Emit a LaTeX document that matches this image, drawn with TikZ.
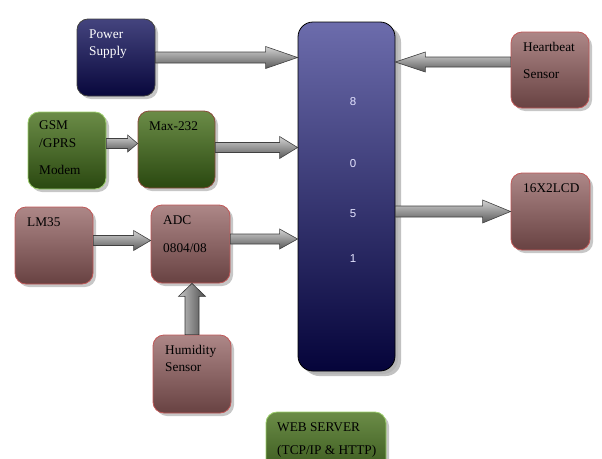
\documentclass[tikz,border=0pt]{standalone}
\usepackage{fontspec}
\setmainfont{Liberation Serif}
\newfontfamily\digfont{Liberation Sans}
\usetikzlibrary{calc,shadows}
\definecolor{bluetop}{HTML}{44447E}
\definecolor{bluebot}{HTML}{08073C}
\definecolor{cputop}{HTML}{6C6CAC}
\definecolor{cpubot}{HTML}{05043A}
\definecolor{redtop}{HTML}{AD8787}
\definecolor{redbot}{HTML}{684242}
\definecolor{redline}{HTML}{C05858}
\definecolor{greentop}{HTML}{6B8C47}
\definecolor{greenbot}{HTML}{2A4810}
\definecolor{greenline}{HTML}{9CCF6C}
\definecolor{maxline}{HTML}{8A4A3A}
\definecolor{digcol}{HTML}{E4E4FF}
\tikzset{
  box/.style={rounded corners=11pt, line width=0.8pt, inner sep=0pt,
    drop shadow={shadow xshift=3pt, shadow yshift=-3pt, fill=black!40, opacity=0.55}},
  sz/.style 2 args={minimum width=#1pt, minimum height=#2pt},
  bluebox/.style={box, draw=black!75, top color=bluetop, bottom color=bluebot},
  cpubox/.style={box, rounded corners=15pt, draw=black, top color=cputop, bottom color=cpubot,
    drop shadow={shadow xshift=6pt, shadow yshift=-5pt, fill=black!30, opacity=0.8}},
  redbox/.style={box, draw=redline, top color=redtop, bottom color=redbot},
  greenbox/.style={box, draw=greenline, top color=greentop, bottom color=greenbot},
  txt/.style={anchor=base west, inner sep=0pt, font=\fontsize{13.3}{16}\selectfont},
  dig/.style={anchor=base, inner sep=0pt, text=digcol, font=\digfont\fontsize{11.5}{14}\selectfont},
  arrowshade/.style={top color=gray!35, bottom color=black!65, draw=black!75, line width=0.6pt},
  varrowshade/.style={left color=gray!45, right color=black!70, draw=black!80, line width=0.6pt}
}
% horizontal block arrow: from, to, body half, head half, signed head length
\newcommand\harr[5]{%
  \path[arrowshade] let \p1=(#1), \p2=(#2) in
    (\x1,{\y1+#3pt}) -- ({\x2-(#5pt)},{\y1+#3pt}) -- ({\x2-(#5pt)},{\y1+#4pt}) --
    (\x2,\y1) -- ({\x2-(#5pt)},{\y1-#4pt}) -- ({\x2-(#5pt)},{\y1-#3pt}) --
    (\x1,{\y1-#3pt}) -- cycle;}
% vertical block arrow (upwards)
\newcommand\varr[5]{%
  \path[varrowshade] let \p1=(#1), \p2=(#2) in
    ({\x1-#3pt},\y1) -- ({\x1-#3pt},{\y2-(#5pt)}) -- ({\x1-#4pt},{\y2-(#5pt)}) --
    (\x1,\y2) -- ({\x1+#4pt},{\y2-(#5pt)}) -- ({\x1+#3pt},{\y2-(#5pt)}) --
    ({\x1+#3pt},\y1) -- cycle;}
\begin{document}
\begin{tikzpicture}[x=1pt,y=-1pt]
\useasboundingbox (0,0) rectangle (602,458);
\clip (0,0) rectangle (602,458);

% boxes
\node[cpubox, sz={97}{349}] (cpu) at (346.5,196.5) {};
\node[bluebox, sz={78}{77}] (ps) at (116,57.5) {};
\node[redbox, sz={78}{76}] (hb) at (550,70) {};
\node[greenbox, sz={78}{77}] (gsm) at (67,150.5) {};
\node[greenbox, draw=maxline, sz={77}{77}] (mx) at (176.5,149.5) {};
\node[redbox, sz={78}{77}] (lm) at (54,245.5) {};
\node[redbox, sz={79}{78}] (adc) at (190.5,244) {};
\node[redbox, sz={78}{78}] (hum) at (192,374) {};
\node[redbox, sz={79}{77}] (lcd) at (550.5,211.5) {};
\node[greenbox, sz={120}{80}] (web) at (326,452) {};

% texts
\node[txt, text=white] (pst1) at (89,38) {Power};
\node[txt, text=white] (pst2) at (89,55) {Supply};
\node[txt] (hbt1) at (523,51) {Heartbeat};
\node[txt] (hbt2) at (523,78) {Sensor};
\node[txt] (gsmt1) at (39,129) {GSM};
\node[txt] (gsmt2) at (39,147) {/GPRS};
\node[txt] (gsmt3) at (39,174) {Modem};
\node[txt] (mxt) at (149,130) {Max-232};
\node[txt] (lmt) at (27,226) {LM35};
\node[txt] (adct1) at (163,224) {ADC};
\node[txt] (adct2) at (163,252) {0804/08};
\node[txt] (humt1) at (165,354) {Humidity};
\node[txt] (humt2) at (165,371) {Sensor};
\node[txt] (lcdt) at (523,192) {16X2LCD};
\node[txt] (webt1) at (277,431) {WEB SERVER};
\node[txt] (webt2) at (277,454) {(TCP/IP \& HTTP)};
\node[dig] (d8) at (353,105) {8};
\node[dig] (d0) at (353,167) {0};
\node[dig] (d5) at (353,217) {5};
\node[dig] (d1) at (353,262) {1};

% connectors
\coordinate (psA) at (ps.east);
\coordinate (psB) at (cpu.west |- ps.east);
\harr{psA}{psB}{5.5}{11}{32}
\coordinate (hbA) at ($(hb.west)+(0,-8)$);
\coordinate (hbB) at (cpu.east |- hbA);
\harr{hbA}{hbB}{5}{10}{-30}
\coordinate (gsmA) at ($(gsm.east)+(0,-7)$);
\coordinate (gsmB) at (mx.west |- gsmA);
\harr{gsmA}{gsmB}{5}{8.5}{10}
\coordinate (mxA) at ($(mx.east)+(0,-2)$);
\coordinate (mxB) at (cpu.west |- mxA);
\harr{mxA}{mxB}{5}{11}{18}
\coordinate (lmA) at ($(lm.east)+(0,-5)$);
\coordinate (lmB) at (adc.west |- lmA);
\harr{lmA}{lmB}{5}{10}{17}
\coordinate (adcA) at ($(adc.east)+(0,-5)$);
\coordinate (adcB) at (cpu.west |- adcA);
\harr{adcA}{adcB}{5}{10}{18}
\coordinate (lcdA) at (cpu.east |- lcd.west);
\coordinate (lcdB) at (lcd.west);
\harr{lcdA}{lcdB}{5.5}{11.5}{28}
\coordinate (humA) at (hum.north);
\coordinate (humB) at (adc.south -| hum.north);
\varr{humA}{humB}{7}{13.5}{13}
\end{tikzpicture}
\end{document}
